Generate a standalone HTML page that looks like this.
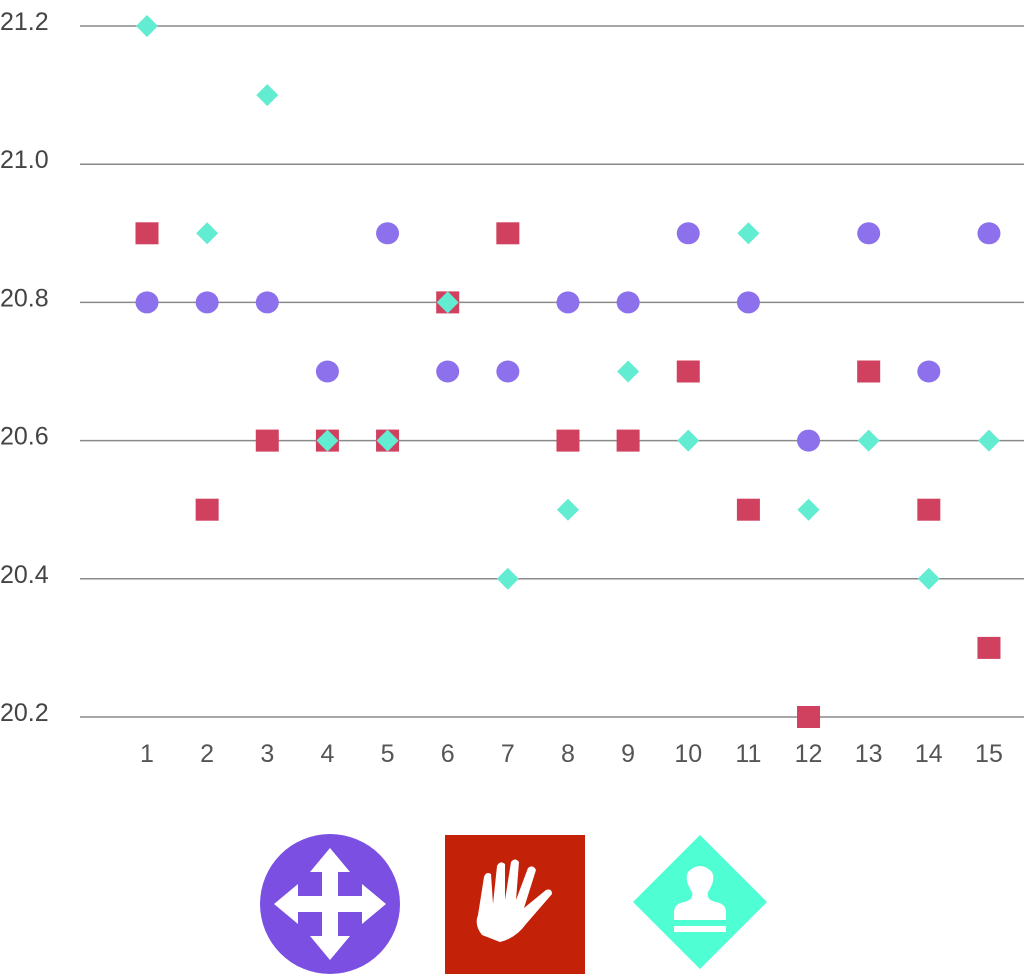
<!DOCTYPE html>
<html><head><meta charset="utf-8"><style>
html,body{margin:0;padding:0;background:#fff;}
svg{display:block;font-family:"Liberation Sans",sans-serif;}
</style></head><body>
<svg width="1024" height="974" viewBox="0 0 1024 974">
<g id="grid"></g>
<g id="ylab"></g>
<g id="xlab"></g>
<g id="marks"></g>
<g>
  <g>
    <circle cx="330" cy="904" r="70" fill="#7b4fe2"/>
    <path d="M330 848 l20 24 h-12 v24 h24 v-12 l24 20 -24 20 v-12 h-24 v24 h12 l-20 24 -20 -24 h12 v-24 h-24 v12 l-24 -20 24 -20 v12 h24 v-24 h-12 z" fill="#fff"/>
  </g>
  <g>
    <rect x="445" y="835" width="140" height="139" fill="#c32209"/>
    <path d="M482 935 q-8 -10 -4 -20 l6 -38 q2 -6 7 -3 l2 30 4 -38 q3 -6 8 -2 l0 36 6 -38 q4 -5 8 0 l-3 38 12 -32 q5 -4 8 2 l-12 38 22 -18 q6 -2 6 4 l-26 30 q-10 14 -26 18 z" fill="#fff"/>
  </g>
  <g>
    <polygon points="700,835 767,902 700,969 633,902" fill="#4ffed2"/>
    <path d="M688 872 q12 -12 24 0 q4 8 -4 20 q-2 8 8 10 q10 2 10 10 v8 h-52 v-8 q0 -8 10 -10 q10 -2 8 -10 q-8 -12 -4 -20 z M674 926 h52 v6 h-52 z" fill="#fff"/>
  </g>
</g>
</svg>
<script>
const categories=[1,2,3,4,5,6,7,8,9,10,11,12,13,14,15];
const circleValues=[20.8,20.8,20.8,20.7,20.9,20.7,20.7,20.8,20.8,20.9,20.8,20.6,20.9,20.7,20.9];
const squareValues=[20.9,20.5,20.6,20.6,20.6,20.8,20.9,20.6,20.6,20.7,20.5,20.2,20.7,20.5,20.3];
const diamondValues=[21.2,20.9,21.1,20.6,20.6,20.8,20.4,20.5,20.7,20.6,20.9,20.5,20.6,20.4,20.6];
const yTicks=[20.2,20.4,20.6,20.8,21.0,21.2];
const yTickLabels=["20.2","20.4","20.6","20.8","21.0","21.2"];
const NS="http://www.w3.org/2000/svg";
function yScale(v){return 717-(v-20.2)/0.2*138.2;}
function xScale(c){return 147+(c-1)*60.14;}
function mk(tag,attrs,parent){const e=document.createElementNS(NS,tag);for(const k in attrs)e.setAttribute(k,attrs[k]);parent.appendChild(e);return e;}
const grid=document.getElementById('grid'),ylab=document.getElementById('ylab'),xlab=document.getElementById('xlab'),marks=document.getElementById('marks');
yTicks.forEach((t,i)=>{
  const y=yScale(t);
  const l=mk('line',{x1:80,x2:1024,y1:y,y2:y,stroke:'#8a8a8a','stroke-width':1.5},grid);
  
  
  const tx=mk('text',{x:0,y:y+4,'font-size':25,fill:'#444'},ylab);
  tx.textContent=yTickLabels[i];
  
  
});
categories.forEach(c=>{
  const tx=mk('text',{x:xScale(c),y:762,'font-size':25,fill:'#555','text-anchor':'middle'},xlab);
  tx.textContent=c;
  
  
});
categories.forEach((c,i)=>{
  const e=mk('ellipse',{cx:xScale(c),cy:yScale(circleValues[i]),rx:11.5,ry:11,fill:'#8c70ec'},marks);
  
  
});
categories.forEach((c,i)=>{
  const x=xScale(c),y=yScale(squareValues[i]);
  const e=mk('rect',{x:x-11.5,y:y-11,width:23,height:22,fill:'#d0405f'},marks);
  
  
});
categories.forEach((c,i)=>{
  const x=xScale(c),y=yScale(diamondValues[i]),h=11;
  const e=mk('polygon',{points:`${x},${y-h} ${x+h},${y} ${x},${y+h} ${x-h},${y}`,fill:'#62ecd2'},marks);
  
  
});
</script>
</body></html>
